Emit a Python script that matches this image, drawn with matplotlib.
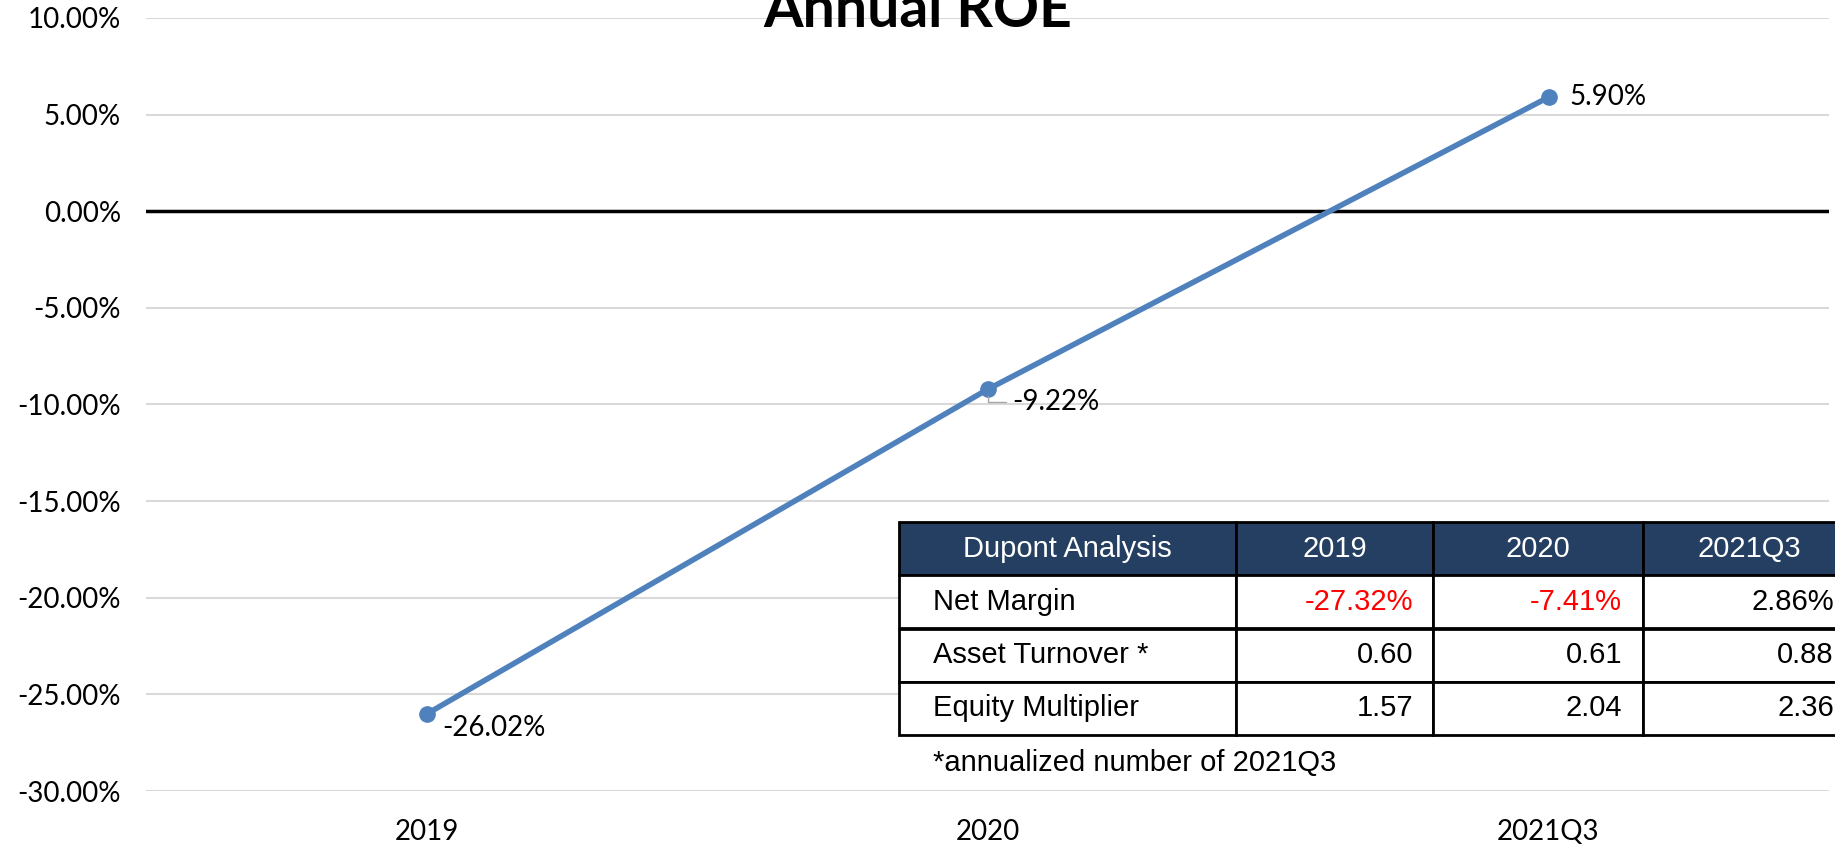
import matplotlib
matplotlib.use("Agg")
import matplotlib.pyplot as plt
from matplotlib.ticker import FuncFormatter

# 数据
periods = ["2019", "2020", "2021Q3"]
roe = [-26.02, -9.22, 5.90]  # 百分比

table_header = ["Dupont Analysis", "2019", "2020", "2021Q3"]
row_names = ["Net Margin", "Asset Turnover *", "Equity Multiplier"]
net_margin = ["-27.32%", "-7.41%", "2.86%"]
asset_turnover = ["0.60", "0.61", "0.88"]
equity_multiplier = ["1.57", "2.04", "2.36"]
footnote = "*annualized number of 2021Q3"

line_color = "#4f81bd"
navy = "#243f61"

fig = plt.figure(figsize=(18.35, 8.49), dpi=100)
ax = fig.add_axes([146 / 1835, 1 - 791 / 849, 1683 / 1835, 773 / 849])

x = list(range(len(periods)))
ax.plot(x, roe, color=line_color, lw=4, marker="o", ms=11, zorder=3)

ax.set_xlim(-0.5, len(periods) - 0.5)
ax.set_ylim(-30, 10)
ax.set_yticks(range(-30, 11, 5))
ax.yaxis.set_major_formatter(FuncFormatter(lambda v, p: "%.2f%%" % v))
ax.set_xticks(x)
ax.set_xticklabels(periods)
ax.grid(axis="y", color="#d9d9d9", lw=1.5, zorder=0)
ax.set_axisbelow(True)
ax.axhline(0, color="black", lw=2.5, zorder=2)
for s in ax.spines.values():
    s.set_visible(False)
ax.tick_params(length=0, labelsize=20)
ax.tick_params(axis="y", pad=18)
ax.tick_params(axis="x", pad=20)
for lab in ax.get_xticklabels() + ax.get_yticklabels():
    lab.set_fontfamily("Lato")

# 数据标签
ax.annotate("%.2f%%" % roe[0], (x[0], roe[0]), xytext=(11, -10), textcoords="offset points",
            ha="left", va="center", fontsize=20, family="Lato")
ax.annotate("%.2f%%" % roe[1], (x[1], roe[1]), xytext=(18, -9), textcoords="offset points",
            ha="left", va="center", fontsize=20, family="Lato",
            arrowprops=dict(arrowstyle="-", color="#a6a6a6", lw=1, relpos=(0, 0.5),
                            shrinkA=3, shrinkB=5, connectionstyle="angle,angleA=0,angleB=90,rad=0"))
ax.annotate("%.2f%%" % roe[2], (x[2], roe[2]), xytext=(15, 0), textcoords="offset points",
            ha="left", va="center", fontsize=20, family="Lato")

fig.text(0.5, 1 - 27 / 849, "Annual ROE", ha="center", va="baseline",
         fontsize=41, fontweight="bold", family="Lato")

# 杜邦分析表
cells = [[row_names[0]] + net_margin,
         [row_names[1]] + asset_turnover,
         [row_names[2]] + equity_multiplier]
widths = [337, 197, 210, 212]
tot = sum(widths)
tab = ax.table(cellText=cells, colLabels=table_header,
               colWidths=[w / tot for w in widths],
               bbox=[(899 - 146) / 1683, (791 - 735) / 773, tot / 1683, (735 - 522) / 773])
tab.set_zorder(10)
tab.auto_set_font_size(False)
for (r, c), cell in tab.get_celld().items():
    cell.set_edgecolor("black")
    cell.set_linewidth(2)
    cell.set_facecolor("white")
    t = cell.get_text()
    t.set_fontsize(21)
    t.set_fontfamily("Liberation Sans")
    if r == 0:
        cell.set_facecolor(navy)
        t.set_color("white")
        t.set_horizontalalignment("center")
    else:
        t.set_horizontalalignment("left" if c == 0 else "right")
        if c > 0 and t.get_text().startswith("-"):
            t.set_color("red")

fig.text(933 / 1835, 1 - 763 / 849, footnote, ha="left", va="center",
         fontsize=21, family="Liberation Sans")

fig.savefig("out.png", dpi=100)
